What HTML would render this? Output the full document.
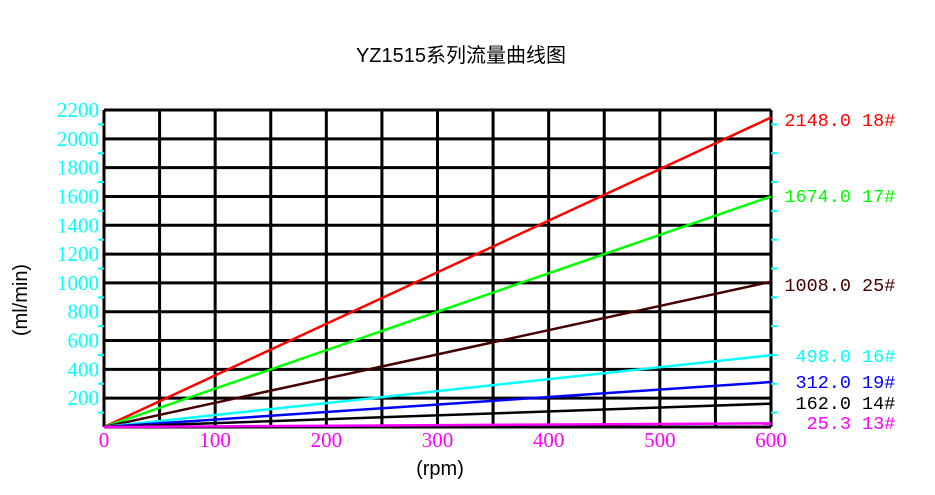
<!DOCTYPE html>
<html><head><meta charset="utf-8"><style>
body{margin:0;background:#fff;}
svg{display:block}
</style></head><body>
<svg width="935" height="495" xmlns="http://www.w3.org/2000/svg">
<rect width="935" height="495" fill="#fff"/>
<text x="461" y="62" text-anchor="middle" font-family="Liberation Sans, Noto Sans CJK SC, sans-serif" font-size="20" fill="#000">YZ1515系列流量曲线图</text>
<g id="grid" stroke="#000" stroke-width="3" fill="none"></g>
<g id="ticks" stroke="#0ff" stroke-width="2"></g>
<g id="ylab" font-family="Liberation Serif, serif" font-size="21" fill="#0ff" text-anchor="end"></g>
<g id="xlab" font-family="Liberation Serif, serif" font-size="21" fill="#f0f" text-anchor="middle"></g>
<g id="lines" stroke-width="2.5"></g>
<g id="rlab" font-family="Liberation Mono, monospace" font-size="18.5"></g>
<text transform="translate(27,300) rotate(-90)" text-anchor="middle" font-family="Liberation Sans, sans-serif" font-size="20" fill="#000">(ml/min)</text>
<text x="440" y="475" text-anchor="middle" font-family="Liberation Sans, sans-serif" font-size="20" fill="#000">(rpm)</text>
<script>
var L=104,R=771,T=110,B=427,NS='http://www.w3.org/2000/svg';
function el(p,t,a,txt){var e=document.createElementNS(NS,t);for(var k in a)e.setAttribute(k,a[k]);if(txt!=null)e.textContent=txt;document.getElementById(p).appendChild(e);}
function yv(v){return B-v/2200*(B-T);}
function xv(v){return L+v/600*(R-L);}
for(var i=0;i<=11;i++){var y=yv(i*200);el('grid','line',{x1:L,x2:R,y1:y,y2:y});}
for(var i=0;i<=12;i++){var x=xv(i*50);el('grid','line',{x1:x,x2:x,y1:T,y2:B});}
for(var i=0;i<11;i++){var y=yv(i*200+100);el('ticks','line',{x1:L-6,x2:L,y1:y,y2:y});el('ticks','line',{x1:R,x2:R+6,y1:y,y2:y});}
for(var i=1;i<=11;i++){el('ylab','text',{x:99,y:yv(i*200)+7},String(i*200));}
for(var i=0;i<=6;i++){el('xlab','text',{x:xv(i*100),y:447},String(i*100));}
var s=[[2148,'#f00','2148.0','18#',126],[1600,'#0f0','1674.0','17#',202],[1008,'#400','1008.0','25#',291],[498,'#0ff','498.0','16#',362],[312,'#00f','312.0','19#',388],[162,'#000','162.0','14#',409],[25.3,'#f0f','25.3','13#',429]];
s.forEach(function(d){el('lines','line',{x1:L,y1:B,x2:R,y2:yv(d[0]),stroke:d[1]});
el('rlab','text',{x:851,y:d[4],fill:d[1],'text-anchor':'end'},d[2]);
el('rlab','text',{x:862,y:d[4],fill:d[1]},d[3]);});
</script>
</svg>
</body></html>
